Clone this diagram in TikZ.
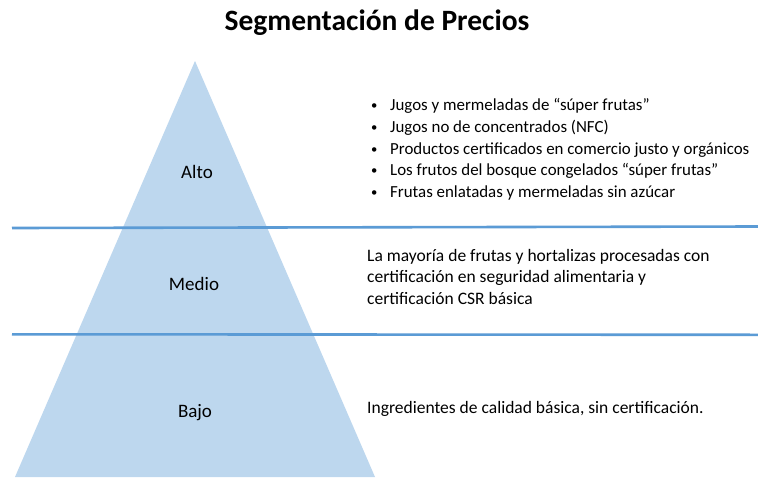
\documentclass[tikz,border=0pt]{standalone}
\usepackage{fontspec}
\setmainfont{Carlito}
\newcommand{\mybul}{\makebox[23pt][l]{\hspace{4pt}\raisebox{1pt}{\scalebox{0.75}{•}}}}
\begin{document}
\begin{tikzpicture}[x=1pt,y=-1pt,
  lvl/.style={font=\fontsize{19}{22}\selectfont, inner sep=0pt},
  desc/.style={font=\fontsize{17.5}{21.6}\selectfont, inner sep=0pt, anchor=north west, align=left},
  sepline/.style={draw=lineblue, line width=2.6pt}]
\definecolor{triblue}{HTML}{BDD7EE}
\definecolor{lineblue}{HTML}{5B9BD5}
\useasboundingbox (0,0) rectangle (758,477);
\fill[white] (0,0) rectangle (758,477);
% pyramid
\coordinate (apex) at (195,61);
\coordinate (bl) at (15,477);
\coordinate (br) at (375,477);
\fill[triblue] (apex) -- (bl) -- (br) -- cycle;
% separators
\coordinate (l1a) at (12,228);
\coordinate (l1b) at (758,226.5);
\coordinate (l2a) at (12,334.3);
\coordinate (l2b) at (758,334.8);
\draw[sepline] (l1a) -- (l1b);
\draw[sepline] (l2a) -- (l2b);
% title
\node[font=\fontsize{29.5}{32}\selectfont\bfseries, inner sep=0pt] (title) at (377,23) {Segmentación de Precios};
% levels
\node[lvl] (alto) at (197,172) {Alto};
\node[lvl] (medio) at (194,284) {Medio};
\node[lvl] (bajo) at (195,413) {Bajo};
% descriptions
\node[desc, font=\fontsize{16.9}{21.7}\selectfont] (altod) at (367,98.5) {%
\mybul Jugos y mermeladas de “súper frutas”\\
\mybul Jugos no de concentrados (NFC)\\
\mybul Productos certificados en comercio justo y orgánicos\\
\mybul Los frutos del bosque congelados “súper frutas”\\
\mybul Frutas enlatadas y mermeladas sin azúcar};
\node[desc] (mediod) at (367,249) {La mayoría de frutas y hortalizas procesadas con\\
certificación en seguridad alimentaria y\\
certificación CSR básica};
\node[desc] (bajod) at (367,401) {Ingredientes de calidad básica, sin certificación.};
\end{tikzpicture}
\end{document}
